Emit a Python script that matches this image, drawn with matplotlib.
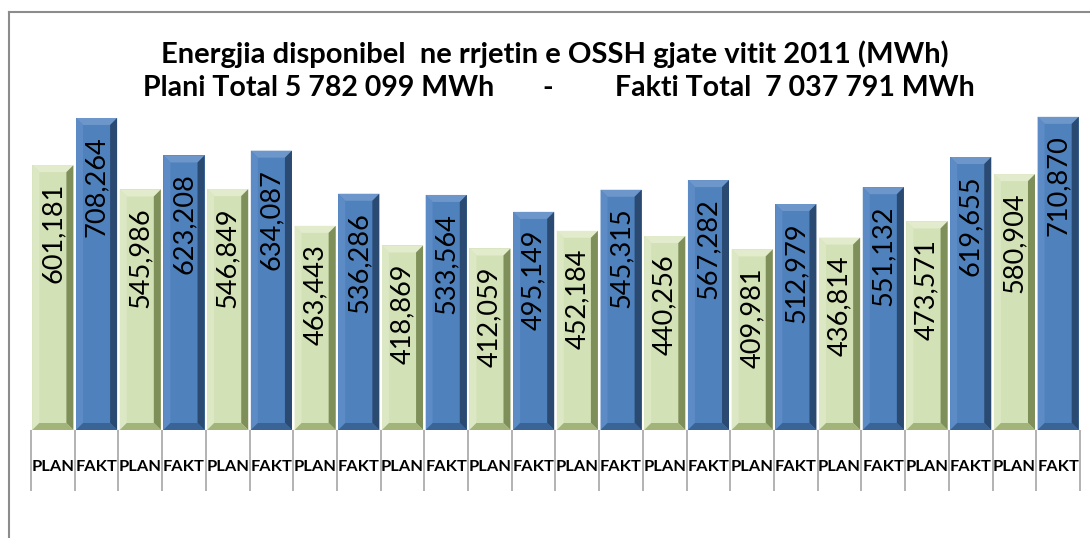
import matplotlib
matplotlib.use("Agg")
import matplotlib.pyplot as plt
from matplotlib.patches import Polygon
from matplotlib.lines import Line2D
import numpy as np

# data
plan = [601181, 545986, 546849, 463443, 418869, 412059,
        452184, 440256, 409981, 436814, 473571, 580904]
fakt = [708264, 623208, 634087, 536286, 533564, 495149,
        545315, 567282, 512979, 551132, 619655, 710870]
title_line1 = "Energjia disponibel  ne rrjetin e OSSH gjate vitit 2011 (MWh)"
plan_total = "Plani Total 5 782 099 MWh"
fakt_total = "Fakti Total  7 037 791 MWh"

# interleave PLAN / FAKT
values = []
labels = []
for p, f in zip(plan, fakt):
    values += [p, f]
    labels += ["PLAN", "FAKT"]
n = len(values)

green = {"face": "#D3E1B6", "top": "#E2ECCD", "left": "#DCE7C4", "right": "#7F8F5A", "bottom": "#A3B47A"}
blue = {"face": "#4F81BD", "top": "#6D97CB", "left": "#5C8BC5", "right": "#2A4A72", "bottom": "#3A6496"}

plt.rcParams['font.family'] = ['Lato', 'DejaVu Sans']

W, H = 1090, 538
fig = plt.figure(figsize=(W / 100, H / 100), dpi=100)
ax_left, ax_right, ax_bottom, ax_top = 31, 1080, 430, 99.6
ax = fig.add_axes([ax_left / W, 1 - ax_bottom / H, (ax_right - ax_left) / W, (ax_bottom - ax_top) / H])
ymax = 750000
ax.set_xlim(-0.5, n - 0.5)
ax.set_ylim(0, ymax)
ax.axis("off")

# bevel sizes in data units (~7 px)
bx = 7 / ((ax_right - ax_left) / n)
by = 7 * ymax / (ax_bottom - ax_top)
width = 0.94

for i, v in enumerate(values):
    c = green if labels[i] == "PLAN" else blue
    x0, x1 = i - width / 2, i + width / 2
    ax.bar(i, v, width=width, color=c["face"], edgecolor="none", zorder=2)
    polys = [
        ([(x0, v), (x1, v), (x1 - bx, v - by), (x0 + bx, v - by)], c["top"]),
        ([(x0, v), (x0 + bx, v - by), (x0 + bx, by), (x0, 0)], c["left"]),
        ([(x1, v), (x1 - bx, v - by), (x1 - bx, by), (x1, 0)], c["right"]),
        ([(x0, 0), (x1, 0), (x1 - bx, by), (x0 + bx, by)], c["bottom"]),
    ]
    for pts, col in polys:
        ax.add_patch(Polygon(pts, closed=True, facecolor=col, edgecolor="none", zorder=3))
    ax.annotate(f"{v:,}", xy=(i, v), xytext=(0, -13), textcoords="offset points",
                rotation=90, ha="center", va="top", fontsize=19.5, color="black", zorder=4)

# category table row
axh = ax_bottom - ax_top
ax.vlines(np.arange(n + 1) - 0.5, -61 / axh, 0, transform=ax.get_xaxis_transform(),
          colors="#A6A6A6", linewidth=1.2, clip_on=False)
ax.axhline(0, color="#D9D9D9", linewidth=1, zorder=1)
for i, lab in enumerate(labels):
    ax.text(i, -41 / axh, lab, transform=ax.get_xaxis_transform(),
            ha="center", va="baseline", fontsize=11.8, fontweight="bold")

# title
fig.text(555 / W, 1 - 63 / H, title_line1, ha="center", va="baseline", fontsize=21, fontweight="bold")
fig.text(143 / W, 1 - 96 / H, plan_total, ha="left", va="baseline", fontsize=20.5, fontweight="bold")
fig.text(548 / W, 1 - 96 / H, "-", ha="center", va="baseline", fontsize=20.5, fontweight="bold")
fig.text(975 / W, 1 - 96 / H, fakt_total, ha="right", va="baseline", fontsize=20.5, fontweight="bold")

# chart frame
fig.add_artist(Line2D([9 / W, 1], [1 - 12 / H, 1 - 12 / H], color="#8C8C8C", linewidth=1.5))
fig.add_artist(Line2D([9 / W, 9 / W], [0, 1 - 12 / H], color="#8C8C8C", linewidth=1.5))

fig.savefig("out.png", dpi=100)
